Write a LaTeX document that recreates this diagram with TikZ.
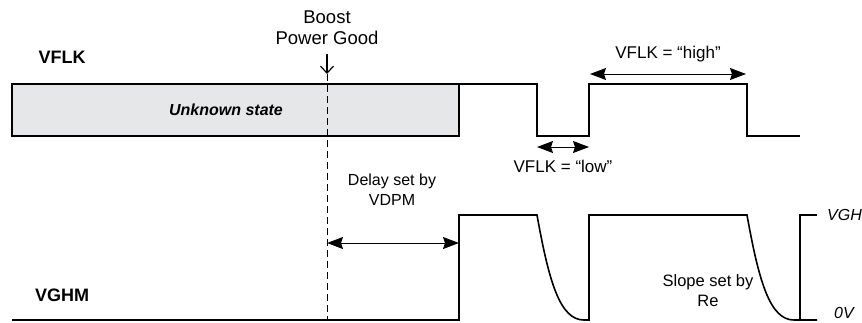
\documentclass[tikz,border=0pt]{standalone}
\usepackage{fontspec}
\setmainfont{Liberation Sans}
\usetikzlibrary{arrows.meta}
\definecolor{boxgray}{HTML}{E6E7E8}
\begin{document}
\begin{tikzpicture}[x=1pt,y=-1pt,
  sig/.style={line width=1.6pt, line join=miter},
  txt/.style={font=\fontsize{16}{20}\selectfont, inner sep=0pt, align=center},
  lbl/.style={font=\fontsize{18}{20}\selectfont\bfseries, inner sep=0pt},
  dim/.style={line width=1pt, {Stealth[length=16pt,width=12pt,inset=2pt]}-{Stealth[length=16pt,width=12pt,inset=2pt]}},
  dashline/.style={line width=1pt, dash pattern=on 7pt off 4pt}]
\useasboundingbox (0,0) rectangle (862,322);
% VFLK
\node[lbl] (vflk) at (62,57) {VFLK};
\draw[line width=1.4pt, fill=boxgray] (12,84) rectangle (459,136);
\node[txt, font=\fontsize{16}{20}\selectfont\bfseries\itshape] (unk) at (226,110) {Unknown state};
\draw[sig] (459,84) -- (537,84) -- (537,136) -- (589,136) -- (589,84) -- (747,84) -- (747,136) -- (800,136);
\coordinate (lowL) at (537,147); \coordinate (lowR) at (589,147);
\draw[dim] (lowL) -- (lowR);
\node[txt, font=\fontsize{17}{20}\selectfont] (lowtxt) at (563,166) {VFLK = “low”};
\coordinate (highL) at (590,74); \coordinate (highR) at (746,74);
\draw[dim] (highL) -- (highR);
\node[txt, font=\fontsize{17}{20}\selectfont] (hightxt) at (668,54) {VFLK = “high”};
% Boost power good
\node[txt, font=\fontsize{18.5}{21}\selectfont] (boost) at (327,28) {Boost\\Power Good};
\coordinate (bpTop) at (327,54); \coordinate (bpTip) at (327,74); \coordinate (bpBot) at (327,320);
\draw[line width=1.2pt, -{Straight Barb[length=7pt,width=13pt]}] (bpTop) -- (bpTip);
\draw[dashline] (bpTip) -- (bpBot);
% VGHM
\node[lbl] (vghm) at (62,295) {VGHM};
\draw[sig] (12,320) -- (459,320) -- (459,215) -- (537,215)
  .. controls (549,282) and (560,320) .. (584,320) -- (589,320) -- (589,215) -- (747,215)
  .. controls (759,282) and (770,320) .. (794,320) -- (817,320);
\draw[sig] (817,215) -- (800,215) -- (800,320);
\coordinate (dlL) at (327,243); \coordinate (dlR) at (459,243);
\draw[dim] (dlL) -- (dlR);
\node[txt] (delay) at (392,190) {Delay set by\\VDPM};
\node[txt, font=\fontsize{16.5}{20}\selectfont] (slope) at (708,291) {Slope set by\\Re};
\node[txt, font=\fontsize{16}{20}\selectfont\itshape, anchor=west] (vgh) at (827,215) {VGH};
\node[txt, font=\fontsize{16}{20}\selectfont\itshape, anchor=west] (zero) at (834,313) {0V};
\end{tikzpicture}
\end{document}
